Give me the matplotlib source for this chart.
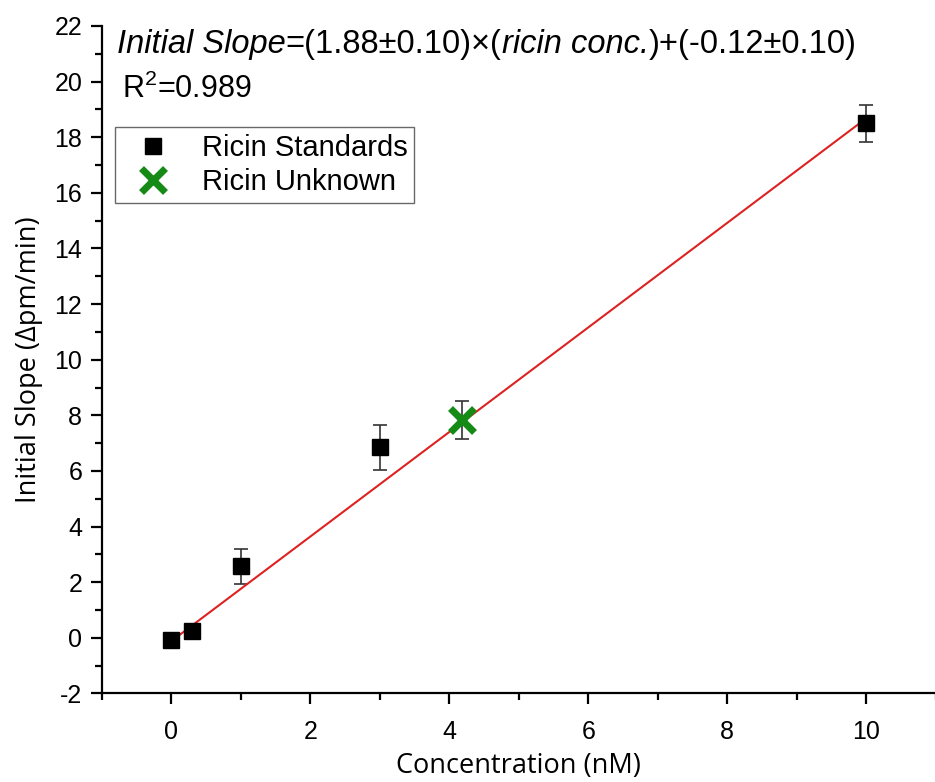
import matplotlib
matplotlib.use("Agg")
import matplotlib.pyplot as plt
import numpy as np
from matplotlib.ticker import MultipleLocator

# calibration standards
std_conc = [0.0, 0.3, 1.0, 3.0, 10.0]
std_slope = [-0.06, 0.24, 2.58, 6.85, 18.5]
std_err = [0.0, 0.0, 0.63, 0.82, 0.66]

# unknown sample
unk_conc = [4.19]
unk_slope = [7.82]
unk_err = [0.68]

# linear fit
fit_slope = 1.88
fit_intercept = -0.12
fit_range = [0.0, 10.0]

# fit equation, split into (text, style) pieces
eq_parts = [("Initial Slope", "italic"), ("=(1.88\u00b10.10)\u00d7(", "normal"),
            ("ricin conc.", "italic"), (")+(-0.12\u00b10.10)", "normal")]

plt.rcParams["font.family"] = "Liberation Sans"
plt.rcParams["axes.unicode_minus"] = False
plt.rcParams["mathtext.fontset"] = "custom"
plt.rcParams["mathtext.rm"] = "Liberation Sans"
plt.rcParams["mathtext.it"] = "Liberation Sans:italic"

fig = plt.figure(figsize=(9.35, 7.82), dpi=100)
ax = fig.add_axes([0.1088, 0.1132, 0.892, 0.8536])

fx = np.array(fit_range)
ax.plot(fx, fit_slope * fx + fit_intercept, "-", color="#dd2222", lw=1.5, zorder=3)

ax.errorbar(std_conc, std_slope, yerr=std_err, fmt="none", ecolor="#333333",
            elinewidth=1.2, capsize=5, capthick=1.2, zorder=2)
ax.plot(std_conc, std_slope, "s", color="black", ms=11, zorder=4,
        label="Ricin Standards")

ax.errorbar(unk_conc, unk_slope, yerr=unk_err, fmt="none", ecolor="#333333",
            elinewidth=1.2, capsize=5, capthick=1.2, zorder=2)
ax.plot(unk_conc, unk_slope, "x", color="#158a15", ms=17, mew=5, zorder=5,
        label="Ricin Unknown")

ax.set_xlim(-1, 11)
ax.set_ylim(-2, 22)
ax.xaxis.set_major_locator(MultipleLocator(2))
ax.xaxis.set_minor_locator(MultipleLocator(1))
ax.yaxis.set_major_locator(MultipleLocator(2))
ax.yaxis.set_minor_locator(MultipleLocator(1))

for side in ["top", "right"]:
    ax.spines[side].set_visible(False)
for side in ["left", "bottom"]:
    ax.spines[side].set_linewidth(1.6)

ax.tick_params(which="major", direction="out", length=8, width=1.6,
               labelsize=18, pad=6)
ax.tick_params(axis="x", which="major", pad=11)
ax.tick_params(which="minor", direction="out", length=5, width=1.6)

ax.set_xlabel("Concentration (nM)", family="Open Sans", fontsize=19.5, labelpad=6)
ax.set_ylabel("Initial Slope (\u0394pm/min)", family="Open Sans", fontsize=19.5,
              labelpad=8)

# chain the equation pieces one after another
prev = None
for txt, style in eq_parts:
    if prev is None:
        prev = ax.text(0.0183, 0.949, txt, transform=ax.transAxes, fontsize=23.5,
                       style=style, va="bottom", ha="left")
    else:
        prev = ax.annotate(txt, xy=(1, 0), xycoords=prev, fontsize=23.5,
                           style=style, va="bottom", ha="left")

ax.text(0.0243, 0.892, "R$^2$=0.989", transform=ax.transAxes, fontsize=22,
        va="baseline", ha="left")

leg = ax.legend(loc="upper left", bbox_to_anchor=(0.0159, 0.848),
                prop={"size": 21}, frameon=True, fancybox=False,
                edgecolor="#444444", borderaxespad=0, handletextpad=0.55,
                borderpad=0.22, labelspacing=0.22, handlelength=2.2)
leg.get_frame().set_linewidth(1.0)

fig.savefig("out.png", dpi=100)
